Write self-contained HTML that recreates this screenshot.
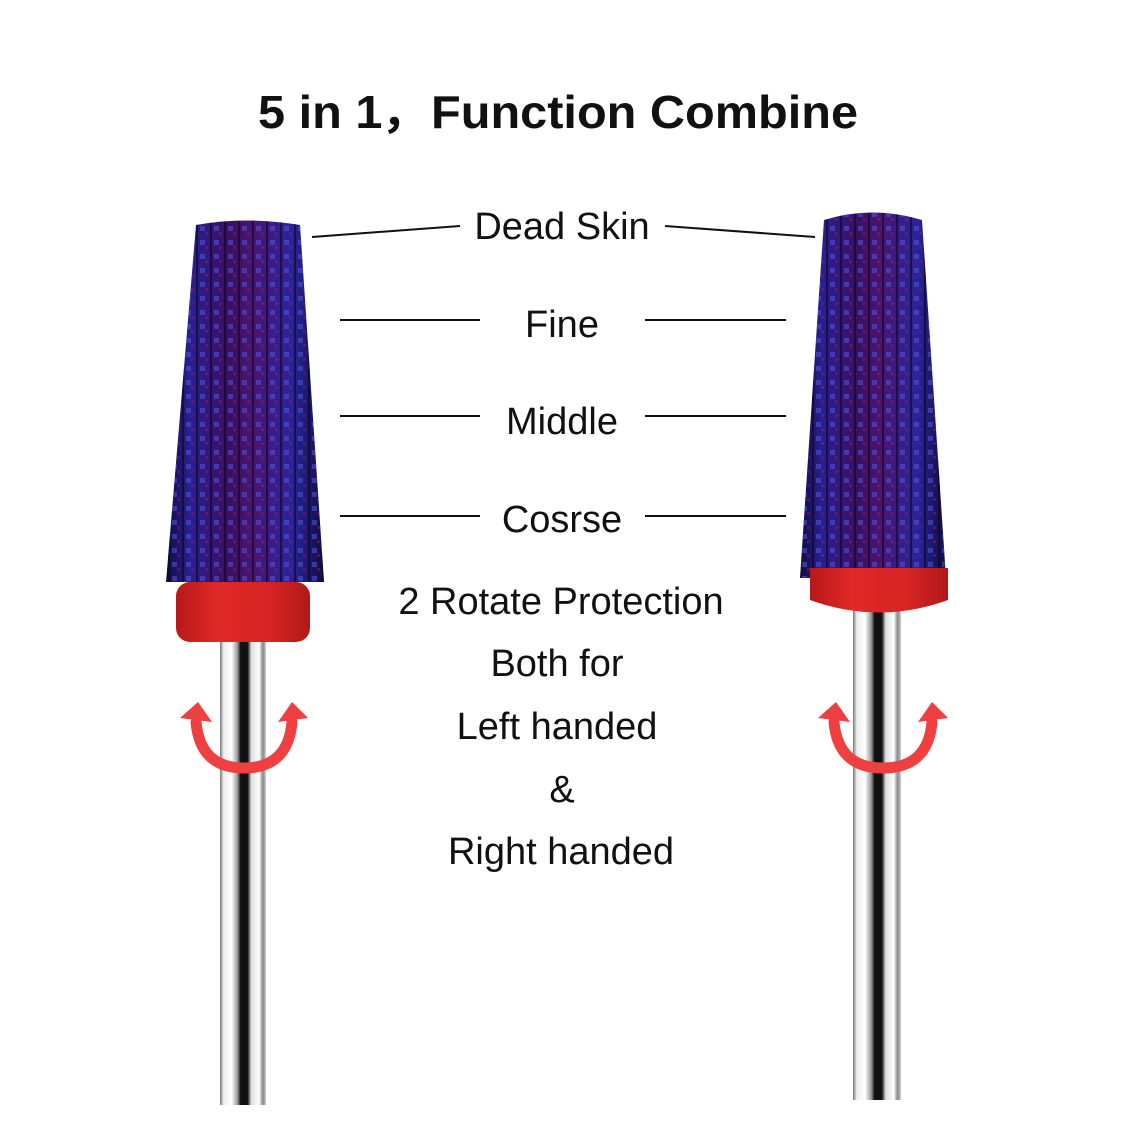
<!DOCTYPE html>
<html><head><meta charset="utf-8"><style>
body{margin:0;background:#fff;}
svg{display:block}
text{font-family:"Liberation Sans",sans-serif;fill:#111}
</style></head><body>
<svg width="1125" height="1143" viewBox="0 0 1125 1143" xmlns="http://www.w3.org/2000/svg">
<defs>
<linearGradient id="cone" x1="0" x2="1">
<stop offset="0" stop-color="#120c40"/><stop offset="0.15" stop-color="#2a1f90"/><stop offset="0.4" stop-color="#3a1060"/><stop offset="0.55" stop-color="#4a1570"/><stop offset="0.8" stop-color="#2a2498"/><stop offset="1" stop-color="#120c40"/>
</linearGradient>
<pattern id="ribs" width="14" height="14" patternUnits="userSpaceOnUse">
<rect x="4" y="2" width="5" height="5" fill="#5a5ae0" opacity="0.5"/>
<rect x="0" y="0" width="2" height="14" fill="#0a0620" opacity="0.6"/>
<rect x="9" y="8" width="3" height="3" fill="#b02060" opacity="0.35"/>
</pattern>
<linearGradient id="red" x1="0" x2="1">
<stop offset="0" stop-color="#b81818"/><stop offset="0.3" stop-color="#e02828"/><stop offset="0.7" stop-color="#d82424"/><stop offset="1" stop-color="#b01818"/>
</linearGradient>
<linearGradient id="shank" x1="0" x2="1">
<stop offset="0" stop-color="#777"/><stop offset="0.08" stop-color="#eee"/><stop offset="0.25" stop-color="#fff"/><stop offset="0.38" stop-color="#999"/><stop offset="0.45" stop-color="#111"/><stop offset="0.6" stop-color="#111"/><stop offset="0.68" stop-color="#ddd"/><stop offset="0.85" stop-color="#fff"/><stop offset="0.93" stop-color="#888"/><stop offset="1" stop-color="#ccc"/>
</linearGradient>
</defs>

<text x="558" y="128" text-anchor="middle" font-size="46" font-weight="bold" textLength="600" lengthAdjust="spacingAndGlyphs">5 in 1，Function Combine</text>

<!-- left bit -->
<rect x="220" y="620" width="46" height="485" fill="url(#shank)"/>
<path d="M196 225 Q246 216 300 225 L324 582 L166 582 Z" fill="url(#cone)"/>
<path d="M196 225 Q246 216 300 225 L324 582 L166 582 Z" fill="url(#ribs)"/>
<rect x="176" y="582" width="134" height="60" rx="14" fill="url(#red)"/>
<!-- right bit -->
<rect x="853" y="605" width="48" height="495" fill="url(#shank)"/>
<path d="M824 220 Q872 205 922 220 L946 578 L800 578 Z" fill="url(#cone)"/>
<path d="M824 220 Q872 205 922 220 L946 578 L800 578 Z" fill="url(#ribs)"/>
<path d="M810 568 L948 568 L948 600 Q879 625 810 600 Z" fill="url(#red)"/>

<!-- arrows -->
<g fill="none" stroke="#ee4040" stroke-width="11" stroke-linecap="round">
<path d="M196 722 Q200 768 244 768 Q288 768 292 722"/>
<path d="M834 722 Q838 768 883 768 Q928 768 932 722"/>
</g>
<g fill="#ee4040">
<path d="M180 718 L198 702 L212 722 Z"/>
<path d="M278 722 L292 702 L308 718 Z"/>
<path d="M818 718 L836 702 L850 722 Z"/>
<path d="M918 722 L932 702 L948 718 Z"/>
</g>

<!-- leader lines -->
<g stroke="#111" stroke-width="2">
<line x1="312" y1="237" x2="460" y2="226"/>
<line x1="665" y1="226" x2="815" y2="237"/>
<line x1="340" y1="320" x2="480" y2="320"/><line x1="645" y1="320" x2="786" y2="320"/>
<line x1="340" y1="416" x2="480" y2="416"/><line x1="645" y1="416" x2="786" y2="416"/>
<line x1="340" y1="516" x2="480" y2="516"/><line x1="645" y1="516" x2="786" y2="516"/>
</g>
<g font-size="38" text-anchor="middle">
<text x="562" y="239">Dead Skin</text>
<text x="562" y="337">Fine</text>
<text x="562" y="434">Middle</text>
<text x="562" y="532">Cosrse</text>
<text x="561" y="614">2 Rotate Protection</text>
<text x="557" y="676">Both for</text>
<text x="557" y="739">Left handed</text>
<text x="562" y="802">&amp;</text>
<text x="561" y="864">Right handed</text>
</g>
</svg>
</body></html>
